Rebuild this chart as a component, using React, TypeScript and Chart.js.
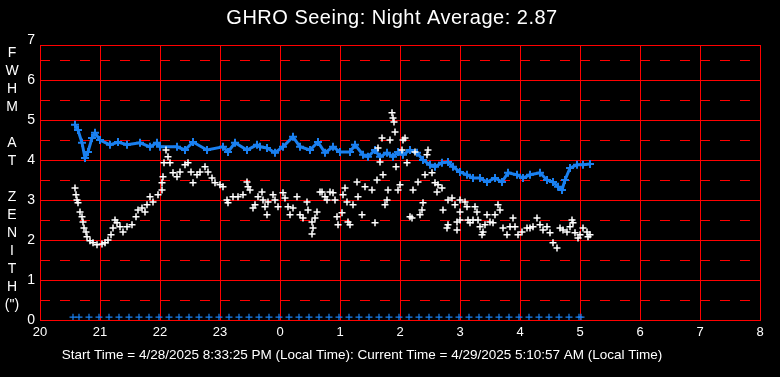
import React, { useEffect, useRef } from "react";
import { Chart, registerables } from "chart.js";

Chart.register(...registerables);

// ---------- text ----------
const TITLE = "GHRO Seeing: Night Average: 2.87";
const Y_TITLE_LETTERS = ["F", "W", "H", "M", "", "A", "T", "", "Z", "E", "N", "I", "T", "H", "(\")"];
const FOOTER =
  "Start Time = 4/28/2025 8:33:25 PM (Local Time): Current Time = 4/29/2025 5:10:57 AM (Local Time)";

// ---------- axes ----------
const hourLabels = ["20", "21", "22", "23", "0", "1", "2", "3", "4", "5", "6", "7", "8"];
const yTickValues = [0, 1, 2, 3, 4, 5, 6, 7];
const dashedLevels = [0.5, 1.5, 2.5, 3.5, 4.5, 5.5, 6.5];
const Y_TOP = 6.875;

// ---------- data (time = minutes after 20:00 local) ----------
const avgMinutes = [
  35, 38, 42, 45, 48, 52, 55, 60, 70, 78,
  87, 100, 110, 117, 120, 137, 145, 153, 167, 183,
  188, 195, 207, 217, 220, 227, 235, 243, 253, 260,
  270, 278, 285, 293, 300, 310, 315, 323, 328, 335,
  340, 347, 353, 358, 363, 370, 377, 383, 390, 395,
  402, 408, 413, 420, 427, 433, 440, 447, 455, 462,
  468, 477, 483, 490, 500, 507, 513, 518, 522, 525,
  530, 537, 543, 550,
];
const avgValues = [
  4.88, 4.75, 4.43, 4.05, 4.2, 4.55, 4.68, 4.5, 4.38, 4.45,
  4.38, 4.43, 4.33, 4.43, 4.33, 4.33, 4.25, 4.45, 4.25, 4.33,
  4.2, 4.43, 4.25, 4.38, 4.33, 4.3, 4.18, 4.33, 4.58, 4.33,
  4.25, 4.45, 4.18, 4.33, 4.2, 4.2, 4.38, 4.13, 4.08, 4.25,
  4.08, 4.18, 4.08, 4.2, 4.13, 4.25, 4.18, 4.0, 3.88, 3.83,
  3.93, 3.95, 3.83, 3.7, 3.63, 3.55, 3.55, 3.45, 3.55, 3.45,
  3.68, 3.63, 3.55, 3.63, 3.68, 3.5, 3.45, 3.33, 3.25, 3.5,
  3.8, 3.88, 3.88, 3.9,
];

const seeingMinutes = [
  35, 36, 37, 38, 40, 42, 43, 44, 46, 47,
  50, 53, 57, 62, 65, 68, 71, 73, 75, 77,
  80, 83, 87, 92, 96, 98, 102, 105, 107, 110,
  113, 118, 122, 122, 123, 124, 126, 128, 130, 133,
  137, 140, 145, 148, 151, 153, 157, 160, 165, 168,
  172, 175, 180, 183, 187, 188, 193, 198, 203, 207,
  208, 213, 215, 218, 210, 222, 223, 225, 227, 228,
  233, 235, 238, 243, 245, 248, 250, 253, 257, 260,
  263, 267, 268, 272, 273, 272, 275, 277, 280, 282,
  285, 287, 290, 293, 295, 297, 298, 302, 303, 305,
  307, 308, 310, 313, 317, 318, 322, 325, 332, 335,
  337, 338, 340, 342, 343, 345, 347, 348, 350, 352,
  353, 354, 355, 356, 358, 360, 362, 363, 365, 367,
  370, 372, 373, 375, 378, 380, 382, 383, 385, 387,
  388, 392, 395, 397, 398, 402, 403, 407, 408, 408,
  412, 415, 420, 425, 427, 420, 417, 417, 420, 428,
  430, 435, 437, 433, 438, 440, 442, 443, 445, 447,
  450, 453, 455, 458, 460, 463, 467, 470, 473, 475,
  478, 482, 487, 490, 493, 497, 500, 503, 507, 510,
  513, 517, 520, 523, 527, 530, 532, 533, 535, 538,
  540, 543, 547, 548, 550,
];
const seeingValues = [
  3.3, 3.13, 3.0, 2.93, 2.7, 2.58, 2.45, 2.3, 2.2, 2.08,
  1.98, 1.93, 1.88, 1.9, 1.93, 2.0, 2.13, 2.3, 2.5, 2.43,
  2.33, 2.2, 2.33, 2.38, 2.58, 2.75, 2.8, 2.7, 2.88, 3.08,
  2.95, 3.13, 3.25, 3.43, 3.58, 3.93, 4.25, 4.08, 3.93, 3.68,
  3.58, 3.7, 3.88, 3.93, 3.7, 3.43, 3.63, 3.7, 3.83, 3.7,
  3.55, 3.43, 3.38, 3.33, 3.0, 2.93, 3.08, 3.08, 3.13, 3.45,
  3.33, 2.8, 2.88, 3.08, 3.25, 3.2, 3.0, 2.83, 2.63, 2.95,
  3.13, 3.0, 2.83, 3.18, 3.05, 2.83, 2.63, 2.8, 3.08, 2.63,
  2.55, 2.95, 2.75, 2.45, 2.3, 2.15, 2.55, 2.7, 3.2, 3.2,
  3.08, 3.0, 3.2, 3.18, 3.0, 2.58, 2.38, 2.68, 3.13, 3.3,
  2.95, 2.45, 2.38, 2.88, 3.45, 3.08, 2.63, 3.33, 3.25, 2.43,
  3.5, 4.3, 3.95, 4.55, 3.63, 2.88, 3.0, 3.25, 4.5, 5.18,
  5.05, 4.95, 4.7, 3.83, 3.25, 3.38, 4.25, 4.5, 4.55, 3.93,
  2.58, 2.55, 3.25, 4.2, 3.45, 2.63, 2.75, 2.93, 3.63, 4.13,
  4.25, 3.68, 3.43, 3.2, 3.38, 3.3, 2.75, 2.3, 2.38, 3.0,
  3.05, 2.88, 3.0, 2.95, 2.83, 2.7, 2.45, 2.25, 2.5, 2.5,
  2.43, 2.83, 2.7, 2.5, 2.5, 2.33, 2.13, 2.2, 2.38, 2.63,
  2.45, 2.43, 2.63, 2.88, 2.75, 2.3, 2.13, 2.33, 2.55, 2.33,
  2.13, 2.2, 2.3, 2.3, 2.33, 2.55, 2.38, 2.25, 2.33, 2.18,
  1.93, 1.8, 2.3, 2.25, 2.2, 2.33, 2.5, 2.43, 2.18, 2.05,
  2.13, 2.3, 2.2, 2.08, 2.13,
];

// sample markers along the bottom (clock times)
const markerTimes = [
  "20:33", "20:39", "20:49", "20:59", "21:09", "21:19", "21:29", "21:39", "21:49", "21:59",
  "22:09", "22:19", "22:29", "22:39", "22:49", "22:59", "23:09", "23:19", "23:29", "23:39",
  "23:49", "23:59", "00:09", "00:19", "00:29", "00:39", "00:49", "00:59", "01:09", "01:19",
  "01:29", "01:39", "01:49", "01:59", "02:09", "02:19", "02:29", "02:39", "02:49", "02:59",
  "03:09", "03:19", "03:29", "03:39", "03:49", "03:59", "04:09", "04:19", "04:29", "04:39",
  "04:49", "04:59", "05:01",
];
const markerLevel = 0.07;

// ---------- styles ----------
const RED = "#ff0000";
const BLUE = "#1a80f0";
const WHITE = "#ffffff";
const FONT = "'Liberation Sans', Arial, sans-serif";

function clockToMinutes(t: string): number {
  const [h, m] = t.split(":").map(Number);
  return (h * 60 + m - 20 * 60 + 24 * 60) % (24 * 60);
}

const textPlugin = {
  id: "seeingText",
  afterDraw(chart: any) {
    const ctx = chart.ctx as any;
    ctx.save();
    ctx.fillStyle = WHITE;
    ctx.textAlign = "center";
    ctx.textBaseline = "middle";
    ctx.font = `20px ${FONT}`;
    ctx.letterSpacing = "0.5px";
    ctx.fillText(TITLE, 392, 18);
    ctx.letterSpacing = "0px";
    ctx.font = `14px ${FONT}`;
    Y_TITLE_LETTERS.forEach((letter, i) => {
      if (letter) ctx.fillText(letter, 12, 53 + i * 18);
    });
    ctx.font = `13.5px ${FONT}`;
    ctx.fillText(FOOTER, 362, 355);
    ctx.restore();
  },
};

export default function App() {
  const canvasRef = useRef<HTMLCanvasElement | null>(null);

  useEffect(() => {
    if (!canvasRef.current) return;
    const seeingPts = seeingMinutes.map((x, i) => ({ x, y: seeingValues[i] }));
    const avgPts = avgMinutes.map((x, i) => ({ x, y: avgValues[i] }));
    const markerPts = markerTimes.map((t) => ({ x: clockToMinutes(t), y: markerLevel }));

    const chart = new Chart(canvasRef.current, {
      type: "scatter",
      data: {
        datasets: [
          {
            data: seeingPts,
            order: 0,
            showLine: false,
            pointStyle: "cross",
            pointRadius: 3.5,
            pointBorderWidth: 1.5,
            borderColor: WHITE,
            backgroundColor: WHITE,
          },
          {
            data: avgPts,
            order: 1,
            showLine: true,
            borderWidth: 3,
            borderColor: BLUE,
            pointStyle: "cross",
            pointRadius: 4,
            pointBorderWidth: 2,
            pointBorderColor: BLUE,
            backgroundColor: BLUE,
            tension: 0,
          },
          {
            data: markerPts,
            order: 2,
            showLine: false,
            pointStyle: "cross",
            pointRadius: 3.5,
            pointBorderWidth: 1.2,
            borderColor: BLUE,
            backgroundColor: BLUE,
          },
        ],
      },
      options: {
        animation: false,
        responsive: false,
        devicePixelRatio: 1,
        layout: { padding: { left: 0, right: 20, top: 45, bottom: 0 } },
        plugins: {
          legend: { display: false },
          tooltip: { enabled: false },
          title: { display: false },
        },
        scales: {
          x: {
            type: "linear",
            position: "bottom",
            min: 0,
            max: 720,
            afterBuildTicks: (scale: any) => {
              scale.ticks = hourLabels.map((_, i) => ({ value: i * 60 }));
            },
            afterFit: (scale: any) => {
              scale.height = 57;
            },
            ticks: {
              autoSkip: false,
              maxRotation: 0,
              padding: 5,
              color: WHITE,
              font: { family: FONT, size: 13 },
              callback: (_v: any, i: number) => hourLabels[i],
            },
            grid: { color: RED, lineWidth: 1, drawTicks: false },
            border: { display: true, color: RED, width: 1 },
          },
          y: {
            type: "linear",
            position: "left",
            min: 0,
            max: Y_TOP,
            afterBuildTicks: (scale: any) => {
              const vals = [...yTickValues.filter((v) => v < Y_TOP), Y_TOP, 7];
              scale.ticks = vals.map((value) => ({ value }));
            },
            afterFit: (scale: any) => {
              scale.width = 40;
            },
            ticks: {
              autoSkip: false,
              padding: 5,
              color: WHITE,
              font: { family: FONT, size: 14 },
              callback: (v: any) => (v === Y_TOP ? "" : String(v)),
            },
            grid: {
              color: (c: any) => (c.tick && c.tick.value > Y_TOP ? "rgba(0,0,0,0)" : RED),
              lineWidth: 1,
              drawTicks: false,
            },
            border: { display: true, color: RED, width: 1 },
          },
          yHalf: {
            type: "linear",
            position: "left",
            min: 0,
            max: Y_TOP,
            afterBuildTicks: (scale: any) => {
              // tiny nudge keeps each dashed line on a whole pixel row
              scale.ticks = dashedLevels.map((value) => ({ value: value - 1e-7 }));
            },
            afterFit: (scale: any) => {
              scale.width = 0;
            },
            ticks: { display: false },
            grid: { color: RED, lineWidth: 1, drawTicks: false },
            border: { display: false, dash: [10, 10], dashOffset: 0 },
          },
        },
      },
      plugins: [textPlugin],
    } as any);

    return () => chart.destroy();
  }, []);

  return (
    <div
      style={{
        position: "fixed",
        left: 0,
        top: 0,
        width: 780,
        height: 377,
        background: "#000000",
      }}
    >
      <canvas ref={canvasRef} width={780} height={377} style={{ display: "block" }} />
    </div>
  );
}
